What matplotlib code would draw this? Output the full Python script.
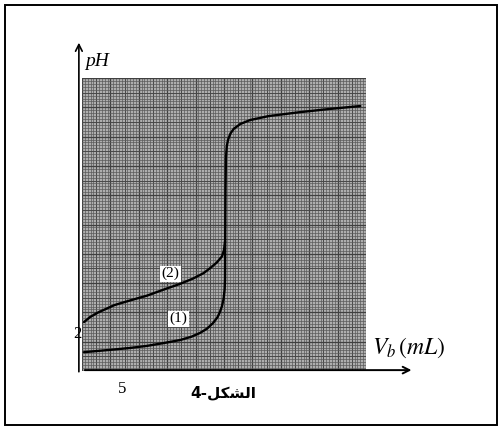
import numpy as np
import matplotlib
matplotlib.use("Agg")
import matplotlib.pyplot as plt
from matplotlib.patches import Rectangle

# curve (1): strong acid, curve (2): weak acid  (Vb in mL, pH)
v1 = [0.25, 2.0, 4.0, 5.9, 8.0, 10.0, 12.1, 13.5, 14.55, 15.4, 16.15, 16.7, 17.0, 17.25,
      17.45, 17.58, 17.63, 17.65, 17.68, 17.74, 17.85, 18.0, 18.3, 18.7, 19.5, 20.7, 23.0,
      26.9, 30.5, 34.3]
ph1 = [0.90, 0.96, 1.03, 1.10, 1.20, 1.33, 1.48, 1.64, 1.82, 2.02, 2.29, 2.57, 2.82, 3.10,
       3.45, 3.90, 4.40, 6.50, 8.50, 10.20, 10.75, 11.05, 11.35, 11.57, 11.80, 11.99, 12.18,
       12.37, 12.52, 12.66]

v2 = [0.25, 1.0, 2.0, 4.0, 6.0, 8.0, 10.5, 12.0, 13.7, 15.0, 15.8, 16.6, 17.26, 17.5, 17.63]
ph2 = [2.34, 2.58, 2.80, 3.15, 3.38, 3.60, 3.95, 4.15, 4.42, 4.68, 4.92, 5.18, 5.48, 5.78, 6.20]

xmax, ymax = 35.0, 14.0

fig = plt.figure(figsize=(4.99, 4.30), dpi=100)
fig.patch.set_facecolor("white")
fig.patches.append(Rectangle((5 / 499, 5 / 430), 492 / 499, 420 / 430, transform=fig.transFigure,
                             fill=False, edgecolor="black", linewidth=1.4))

ax = fig.add_axes([82 / 499, 1 - 371 / 430, 284 / 499, 293 / 430])
ax.set_xlim(0, xmax)
ax.set_ylim(0, ymax)
ax.set_facecolor("#aeaeae")

# graph paper
gx = np.linspace(0, xmax, 101)
gy = np.linspace(0, ymax, 101)
for i, x in enumerate(gx):
    lw, c = (0.5, "#5a5a5a") if i % 5 else ((0.7, "#484848") if i % 10 else (0.9, "#404040"))
    ax.axvline(x, color=c, linewidth=lw, zorder=1)
for i, y in enumerate(gy):
    lw, c = (0.5, "#5a5a5a") if i % 5 else ((0.7, "#484848") if i % 10 else (0.9, "#404040"))
    ax.axhline(y, color=c, linewidth=lw, zorder=1)

ax.plot(v1, ph1, color="black", linewidth=1.7, zorder=3, solid_capstyle="round")
ax.plot(v2, ph2, color="black", linewidth=1.7, zorder=3, solid_capstyle="round")

for s in ax.spines.values():
    s.set_visible(False)
ax.set_xticks([])
ax.set_yticks([])

serif = "Liberation Serif"
box = dict(facecolor="white", edgecolor="none", pad=1.0)
ax.text(10.9, 4.65, "(2)", fontsize=11, family=serif, ha="center", va="center", bbox=box, zorder=4)
ax.text(11.9, 2.5, "(1)", fontsize=11, family=serif, ha="center", va="center", bbox=box, zorder=4)

# axes with arrows
ax.annotate("", xy=(-0.011, 1.13), xytext=(-0.011, -0.012), xycoords="axes fraction",
            textcoords="axes fraction",
            arrowprops=dict(arrowstyle="->", color="black", lw=1.2, mutation_scale=12))
ax.annotate("", xy=(1.17, 0.003), xytext=(0.0, 0.003), xycoords="axes fraction",
            textcoords="axes fraction",
            arrowprops=dict(arrowstyle="->", color="black", lw=1.4, mutation_scale=12))

ax.text(0.01, 1.055, "pH", transform=ax.transAxes, fontsize=14, family=serif, style="italic",
        ha="left", va="center")
ax.text(1.022, 0.08, r"$V_b\,(mL)$", transform=ax.transAxes, fontsize=17, ha="left", va="center",
        math_fontfamily="stix")
ax.text(-0.016, 1.75, "2", fontsize=12, family=serif, ha="right", va="center")
ax.text(5, -0.85, "5", fontsize=12, family=serif, ha="center", va="center")

fig.text(190 / 499, 1 - 393 / 430, "4-\uFEDE\uFEDC\uFEB8\uFEDF\uFE8D", fontsize=11,
         fontweight="bold", family=["DejaVu Sans"], ha="left", va="center")

fig.savefig("out.png", dpi=100)
